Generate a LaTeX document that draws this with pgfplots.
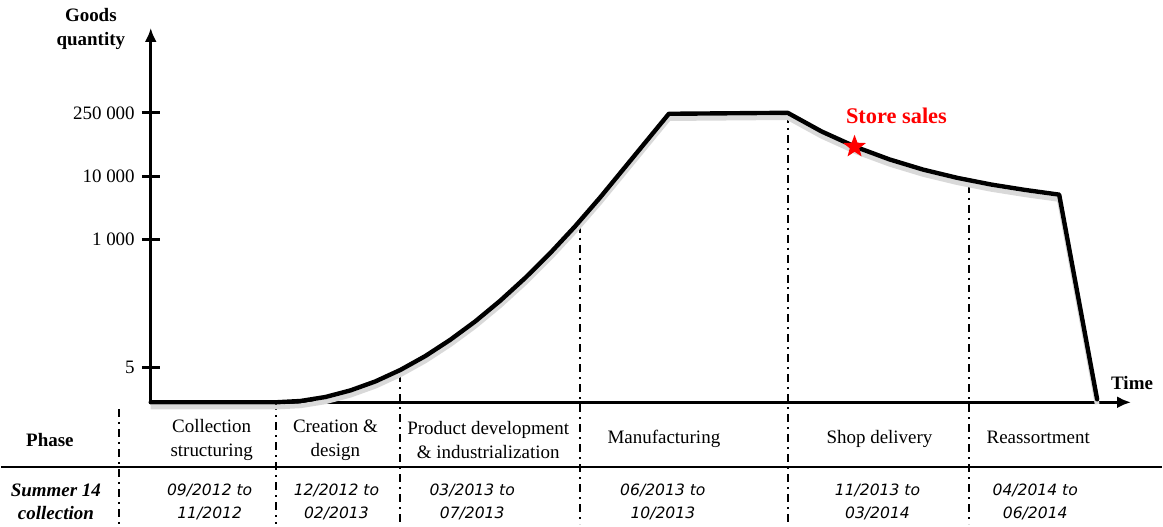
\documentclass[border=0pt]{standalone}
\usepackage{pgfplots}
\pgfplotsset{compat=1.18}
\usepackage{fontspec}
\setmainfont{Liberation Serif}
\newfontfamily\dejavu{DejaVu Sans}
\usetikzlibrary{arrows.meta,shapes.geometric}
\pgfdeclareplotmark{fstar}{\node[star,star points=5,star point ratio=2.4,fill=red,draw=none,inner sep=0pt,minimum size=12pt]{};}
\newcommand{\lab}{\fontsize{9.5}{12}\selectfont}
\newcommand{\dat}{\dejavu\itshape\fontsize{7.8}{11.5}\selectfont}
\pgfplotstableread{
x y
0 0
125 0
150 1.3
175 5.3
200 11.9
225 20.9
250 32.4
275 46.3
300 62.6
325 81.0
350 101.7
375 124.5
400 149.3
425 176.2
450 205
519 289
638 290
672 271.3
706 255.9
740 243.3
774 233.0
808 224.8
842 218.1
876 212.7
910 208
948 3
}\curve
\begin{document}
\begin{tikzpicture}
\begin{axis}[
  scale only axis, width=491pt, height=187.5pt,
  xmin=0, xmax=982, ymin=0, ymax=375,
  axis lines=left,
  axis line style={line width=1.5pt,-{Latex[length=7pt,width=6pt]}},
  xtick=\empty,
  ytick={35,163,226,290},
  yticklabels={\mbox{5},\mbox{1 000},\mbox{10 000},\mbox{250 000}},
  tick align=center, major tick length=9pt,
  tick style={line width=1.5pt,black},
  yticklabel style={font=\lab},
  clip=false,
]
% bounding box
\path (axis cs:-150,-122) rectangle (axis cs:1013,403);
% dash-dot separators
\pgfplotsset{sep/.style={black,line width=1pt,dash pattern=on 4pt off 2.5pt on 1pt off 2.5pt,forget plot}}
\addplot[sep] coordinates {(-32,-7) (-32,-122)};
\addplot[sep] coordinates {(125,0) (125,-122)};
\addplot[sep] coordinates {(250,28) (250,-122)};
\addplot[sep] coordinates {(430,178) (430,-122)};
\addplot[sep] coordinates {(638,288) (638,-122)};
\addplot[sep] coordinates {(820,218) (820,-122)};
% table rule
\addplot[black,line width=1pt,forget plot] coordinates {(-150,-65) (1013,-65)};
% shadow
\begin{scope}[yshift=-1.2pt]
\addplot[gray!30,line width=2.4pt,line join=round,forget plot] table[x=x,y=y] {\curve};
\end{scope}
% curve
\addplot[black,line width=2.2pt,line cap=round,line join=round,forget plot] table[x=x,y=y] {\curve};
% star
\addplot[only marks,mark=fstar,forget plot] coordinates {(705,256)};
% texts
\node[font=\bfseries\lab,align=center] at (axis cs:-60,373.5) {Goods\\quantity};
\node[font=\bfseries\lab] at (axis cs:983,19) {Time};
\node[font=\bfseries\fontsize{11.2}{13}\selectfont,text=red] at (axis cs:747,287) {Store sales};
\node[font=\bfseries\lab] at (axis cs:-101,-38) {Phase};
\node[font=\lab,align=center] at (axis cs:61,-38) {Collection\\structuring};
\node[font=\lab,align=center] at (axis cs:185,-38) {Creation \&\\design};
\node[font=\lab,align=center] at (axis cs:338,-38) {Product development\\\& industrialization};
\node[font=\lab] at (axis cs:514,-37) {Manufacturing};
\node[font=\lab] at (axis cs:730,-37) {Shop delivery};
\node[font=\lab] at (axis cs:889,-35) {Reassortment};
\node[font=\bfseries\itshape\fontsize{9.5}{11.5}\selectfont,align=center] at (axis cs:-95,-100) {Summer 14\\collection};
\node[font=\dat,align=center] at (axis cs:59,-100) {09/2012 to\\11/2012};
\node[font=\dat,align=center] at (axis cs:186,-100) {12/2012 to\\02/2013};
\node[font=\dat,align=center] at (axis cs:322,-100) {03/2013 to\\07/2013};
\node[font=\dat,align=center] at (axis cs:513,-100) {06/2013 to\\10/2013};
\node[font=\dat,align=center] at (axis cs:728,-100) {11/2013 to\\03/2014};
\node[font=\dat,align=center] at (axis cs:886,-100) {04/2014 to\\06/2014};
\end{axis}
\end{tikzpicture}
\end{document}
